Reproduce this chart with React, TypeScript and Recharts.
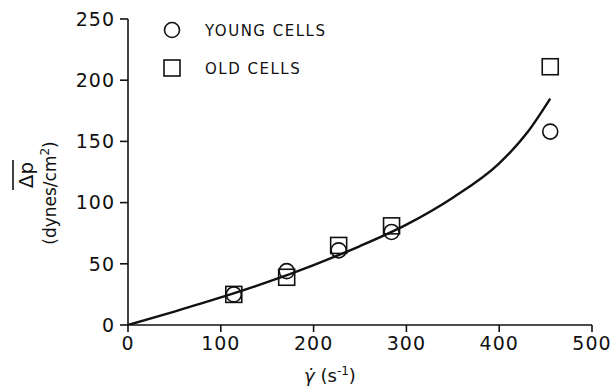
import {
  ComposedChart,
  Line,
  Scatter,
  XAxis,
  YAxis,
} from "recharts";

// shear rate (1/s) vs. mean pressure drop (dynes/cm2)
const shearRates = [114, 171, 227, 284, 455];
const youngCells = [25, 44, 61, 76, 158];
const oldCells = [25, 39, 65, 81, 211];

// fitted curve
const curveX = [0, 50, 100, 150, 200, 250, 300, 350, 400, 430, 455];
const curveY = [0, 11, 22.5, 35, 49, 64.5, 82, 104, 132, 157, 185];

const xTicks = [0, 100, 200, 300, 400, 500];
const yTicks = [0, 50, 100, 150, 200, 250];

const young = shearRates.map((x, i) => ({ x, y: youngCells[i] }));
const old = shearRates.map((x, i) => ({ x, y: oldCells[i] }));
const curve = curveX.map((x, i) => ({ x, y: curveY[i] }));

const font = "'DejaVu Sans', sans-serif";

const CircleShape = (props: any) => (
  <circle cx={props.cx} cy={props.cy} r={7.5} fill="none" stroke="#111" strokeWidth={1.6} />
);

const SquareShape = (props: any) => (
  <rect x={props.cx - 8} y={props.cy - 8} width={16} height={16} fill="none" stroke="#111" strokeWidth={1.6} />
);

const LegendBox = () => (
  <svg width={220} height={70} style={{ fontFamily: font, position: "absolute", left: 160, top: 18 }}>
    <circle cx={12} cy={12} r={7.5} fill="none" stroke="#111" strokeWidth={1.6} />
    <text x={45} y={18} fontSize={15} letterSpacing={1.5} fill="#111">YOUNG CELLS</text>
    <rect x={4} y={42} width={16} height={16} fill="none" stroke="#111" strokeWidth={1.6} />
    <text x={45} y={56} fontSize={15} letterSpacing={1.5} fill="#111">OLD CELLS</text>
  </svg>
);

const YLabel = () => (
  <g fill="#111" fontFamily={font}>
    <g transform="translate(33,175) rotate(-90)">
      <text x={0} y={0} fontSize={20} textAnchor="middle">Δp</text>
      <line x1={-15} y1={-20} x2={15} y2={-20} stroke="#111" strokeWidth={1.6} />
    </g>
    <g transform="translate(56,193) rotate(-90)">
      <text x={0} y={0} fontSize={17} textAnchor="middle">
        (dynes/cm<tspan dy={-7} fontSize={12}>2</tspan><tspan dy={7}>)</tspan>
      </text>
    </g>
  </g>
);

const XLabel = () => (
  <text x={330} y={382} fontSize={18} textAnchor="middle" fill="#111" fontFamily={font}>
    <tspan fontStyle="italic">γ̇</tspan>
    <tspan> (s</tspan>
    <tspan dy={-7} fontSize={12}>-1</tspan>
    <tspan dy={7}>)</tspan>
  </text>
);

export default function App() {
  return (
    <div style={{ position: "absolute", left: 0, top: 0, width: 614, height: 390, background: "#fff" }}>
      <ComposedChart
        width={614}
        height={390}
        margin={{ top: 19, right: 22, bottom: 0, left: 0 }}
      >
        <XAxis
          type="number"
          dataKey="x"
          domain={[0, 500]}
          ticks={xTicks}
          allowDataOverflow
          height={65}
          stroke="#111"
          strokeWidth={1.6}
          tickSize={7}
          tickMargin={5}
          tick={{ fill: "#111", fontSize: 19, fontFamily: font, letterSpacing: 1 }}
          label={<XLabel />}
        />
        <YAxis
          type="number"
          dataKey="y"
          domain={[0, 250]}
          ticks={yTicks}
          allowDataOverflow
          width={128}
          stroke="#111"
          strokeWidth={1.6}
          tickSize={8}
          tickMargin={5}
          tick={{ fill: "#111", fontSize: 19, fontFamily: font, letterSpacing: 1 }}
          label={<YLabel />}
        />
        <Line
          data={curve}
          dataKey="y"
          type="monotoneX"
          stroke="#111"
          strokeWidth={2.4}
          dot={false}
          activeDot={false}
          isAnimationActive={false}
          legendType="none"
        />
        <Scatter name="OLD CELLS" data={old} dataKey="y" shape={<SquareShape />} isAnimationActive={false} />
        <Scatter name="YOUNG CELLS" data={young} dataKey="y" shape={<CircleShape />} isAnimationActive={false} />
      </ComposedChart>
      <LegendBox />
    </div>
  );
}
